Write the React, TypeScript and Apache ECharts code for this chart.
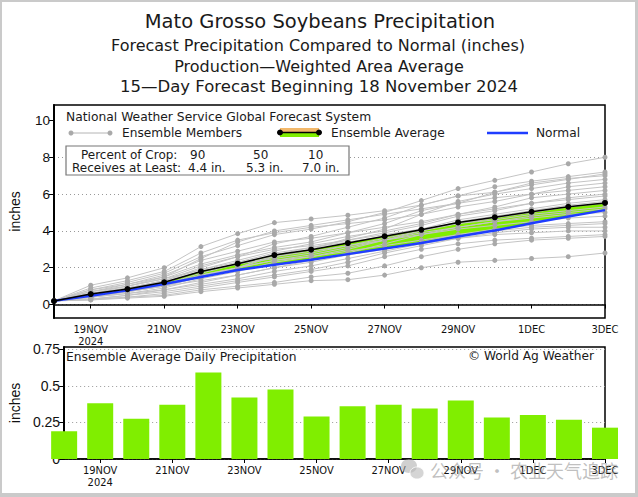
import React, { useEffect, useRef } from "react";
import * as echarts from "echarts";

const days = ["18NOV", "19NOV\n2024", "20NOV", "21NOV", "22NOV", "23NOV", "24NOV", "25NOV", "26NOV", "27NOV", "28NOV", "29NOV", "30NOV", "1DEC", "2DEC", "3DEC"];
const dailyPrecip = [0.19, 0.38, 0.275, 0.37, 0.59, 0.42, 0.475, 0.29, 0.36, 0.37, 0.345, 0.4, 0.284, 0.3, 0.268, 0.214];
const ensembleAverage = [0.19, 0.57, 0.84, 1.21, 1.8, 2.22, 2.69, 2.98, 3.34, 3.71, 4.06, 4.46, 4.74, 5.04, 5.31, 5.52];
const normal = [0.2, 0.48, 0.77, 1.12, 1.5, 1.88, 2.16, 2.44, 2.74, 3.04, 3.34, 3.7, 4.02, 4.42, 4.78, 5.13];
const ensembleMembers = [
  [0.2, 0.8, 1.2, 1.7, 2.6, 3.2, 3.8, 4.1, 4.5, 5.0, 5.65, 6.3, 6.75, 7.2, 7.65, 8.0],
  [0.2, 1.05, 1.45, 2.0, 3.15, 3.85, 4.45, 4.65, 4.85, 5.1, 5.4, 5.9, 6.4, 6.7, 6.95, 7.2],
  [0.2, 0.6, 0.9, 1.3, 2.0, 2.6, 3.3, 3.7, 4.2, 4.7, 5.4, 5.9, 6.1, 6.5, 6.8, 7.1],
  [0.2, 0.7, 1.1, 1.5, 2.5, 3.4, 4.0, 4.3, 4.6, 4.9, 5.2, 5.5, 6.1, 6.6, 6.85, 7.0],
  [0.2, 0.5, 0.8, 1.1, 1.6, 2.0, 2.6, 3.0, 3.6, 4.1, 4.9, 5.6, 6.0, 6.3, 6.6, 6.8],
  [0.2, 0.9, 1.3, 1.8, 2.8, 3.5, 3.9, 4.2, 4.4, 4.6, 4.9, 5.3, 5.6, 6.0, 6.4, 6.6],
  [0.2, 0.6, 1.0, 1.5, 2.2, 2.7, 3.1, 3.4, 3.9, 4.4, 5.1, 5.5, 5.8, 6.0, 6.2, 6.4],
  [0.2, 0.7, 1.0, 1.4, 1.9, 2.4, 2.9, 3.3, 3.7, 4.0, 4.4, 4.9, 5.3, 5.8, 6.0, 6.2],
  [0.2, 0.4, 0.7, 1.0, 1.5, 2.0, 2.7, 3.1, 3.5, 3.9, 4.3, 4.8, 5.1, 5.5, 5.8, 6.0],
  [0.2, 0.8, 1.1, 1.6, 2.4, 2.9, 3.4, 3.6, 3.9, 4.2, 4.5, 4.9, 5.2, 5.5, 5.7, 5.9],
  [0.2, 0.5, 0.9, 1.3, 1.9, 2.3, 2.8, 3.1, 3.4, 3.7, 4.1, 4.6, 4.9, 5.2, 5.5, 5.7],
  [0.2, 0.6, 0.8, 1.1, 1.7, 2.2, 2.5, 2.8, 3.2, 3.6, 4.0, 4.5, 4.8, 5.1, 5.4, 5.6],
  [0.2, 0.4, 0.6, 0.9, 1.4, 1.8, 2.3, 2.6, 3.0, 3.5, 4.0, 4.4, 4.7, 5.0, 5.3, 5.5],
  [0.2, 0.7, 1.0, 1.4, 2.1, 2.6, 3.0, 3.2, 3.5, 3.8, 4.1, 4.4, 4.6, 4.9, 5.1, 5.3],
  [0.2, 0.5, 0.7, 1.0, 1.6, 2.0, 2.4, 2.7, 3.1, 3.5, 3.9, 4.2, 4.5, 4.8, 5.0, 5.2],
  [0.2, 0.3, 0.5, 0.8, 1.2, 1.6, 2.0, 2.4, 2.8, 3.3, 3.8, 4.2, 4.5, 4.7, 4.9, 5.0],
  [0.2, 0.6, 0.9, 1.2, 1.8, 2.2, 2.6, 2.9, 3.2, 3.5, 3.8, 4.1, 4.3, 4.5, 4.7, 4.8],
  [0.2, 0.4, 0.7, 1.0, 1.3, 1.6, 2.0, 2.3, 2.7, 3.0, 3.4, 3.8, 4.1, 4.3, 4.4, 4.5],
  [0.2, 0.5, 0.8, 1.0, 1.5, 2.0, 2.4, 2.6, 2.9, 3.2, 3.5, 3.8, 4.0, 4.2, 4.3, 4.4],
  [0.2, 0.3, 0.5, 0.7, 1.0, 1.3, 1.6, 1.9, 2.3, 2.8, 3.2, 3.6, 3.9, 4.1, 4.2, 4.2],
  [0.2, 0.4, 0.6, 0.8, 1.1, 1.4, 1.8, 2.1, 2.5, 2.9, 3.3, 3.6, 3.8, 3.9, 4.0, 4.0],
  [0.2, 0.3, 0.4, 0.6, 0.9, 1.2, 1.5, 1.8, 2.1, 2.6, 3.0, 3.3, 3.5, 3.6, 3.7, 3.8],
  [0.2, 0.25, 0.4, 0.5, 0.8, 1.0, 1.2, 1.5, 1.7, 2.1, 2.6, 3.0, 3.3, 3.5, 3.6, 3.7],
  [0.2, 0.25, 0.35, 0.45, 0.7, 0.9, 1.1, 1.3, 1.35, 1.6, 2.0, 2.3, 2.4, 2.5, 2.6, 2.8],
];
const topTicks = [0, 2, 4, 6, 8, 10];
const bottomTicks = [0, 0.25, 0.5, 0.75];
const cropPercent = ["90", "50", "10"];
const cropAmount = ["4.4 in.", "5.3 in.", "7.0 in."];
const titles = [
  "Mato Grosso Soybeans Precipitation",
  "Forecast Precipitation Compared to Normal (inches)",
  "Production\u2014Weighted Area Average",
  "15\u2014Day Forecast Beginning 18 November 2024",
];

const SANS = "'DejaVu Sans', 'Liberation Sans', sans-serif";
const ARIAL = "'Liberation Sans', sans-serif";
const NARROW = "'Liberation Sans Narrow', 'DejaVu Sans Condensed', 'Liberation Sans', sans-serif";
const GREEN = "#80ee00";

function txt(text: string, x: number, y: number, size: number, align = "left", extra: any = {}) {
  return {
    type: "text",
    x,
    y,
    z: 100,
    style: { text, fontSize: size, fontFamily: SANS, fill: "#1a1a1a", align, verticalAlign: "middle", ...extra },
  };
}

function buildOption() {
  const oddOnly = (i: number) => i % 2 === 1;
  const xAxisCommon = {
    type: "category",
    data: days,
    boundaryGap: false,
    axisLine: { lineStyle: { color: "#000", width: 1.5 } },
    axisTick: { interval: oddOnly, length: 4, lineStyle: { color: "#000" } },
    axisLabel: { interval: oddOnly, fontSize: 11, fontFamily: NARROW, color: "#111", margin: 5, lineHeight: 12 },
    splitLine: { show: false },
  };
  const splitDots = { show: true, lineStyle: { type: [1, 3], color: "#999", width: 1 } };

  const series: any[] = [];
  series.push({
    type: "line", name: "base", data: normal, stack: "band", symbol: "none",
    lineStyle: { opacity: 0 }, silent: true, z: 1, xAxisIndex: 0, yAxisIndex: 0,
  });
  series.push({
    type: "line", name: "above", data: ensembleAverage.map((v, i) => Math.max(0, v - normal[i])),
    stack: "band", symbol: "none", lineStyle: { opacity: 0 }, areaStyle: { color: GREEN, opacity: 1 },
    silent: true, z: 1, xAxisIndex: 0, yAxisIndex: 0,
  });
  ensembleMembers.forEach((m, k) => {
    series.push({
      type: "line", name: "member" + k, data: m, symbol: "circle", symbolSize: 5,
      itemStyle: { color: "#a9a9a9" }, lineStyle: { color: "#c4c4c4", width: 1 },
      z: 2, xAxisIndex: 0, yAxisIndex: 0, silent: true,
    });
  });
  series.push({
    type: "line", name: "Normal", data: normal, symbol: "none",
    lineStyle: { color: "#1f3dff", width: 2.5 }, z: 3, xAxisIndex: 0, yAxisIndex: 0,
  });
  series.push({
    type: "line", name: "Ensemble Average", data: ensembleAverage, symbol: "circle", symbolSize: 6,
    itemStyle: { color: "#000" }, lineStyle: { color: "#000", width: 1.5 }, z: 4, xAxisIndex: 0, yAxisIndex: 0,
  });
  series.push({
    type: "bar", name: "Daily", data: dailyPrecip, barWidth: 26, itemStyle: { color: GREEN },
    xAxisIndex: 1, yAxisIndex: 1, clip: true, z: 2,
  });

  const graphic: any[] = [];
  // frame
  graphic.push({ type: "rect", z: 200, shape: { x: 0, y: 0, width: 638, height: 2 }, style: { fill: "#cacaca" } });
  graphic.push({ type: "rect", z: 200, shape: { x: 0, y: 0, width: 2, height: 497 }, style: { fill: "#cacaca" } });
  graphic.push({ type: "rect", z: 200, shape: { x: 635, y: 0, width: 3, height: 497 }, style: { fill: "#cacaca" } });
  graphic.push({ type: "rect", z: 200, shape: { x: 0, y: 493, width: 638, height: 4 }, style: { fill: "#cacaca" } });
  // titles
  graphic.push(txt(titles[0], 320, 21, 19.5, "center"));
  graphic.push(txt(titles[1], 318, 45, 16, "center"));
  graphic.push(txt(titles[2], 319, 66, 16, "center"));
  graphic.push(txt(titles[3], 319, 86, 16.5, "center"));
  // legend area cover
  graphic.push({ type: "rect", z: 90, shape: { x: 55, y: 106, width: 549, height: 32 }, style: { fill: "#fff" } });
  graphic.push(txt("National Weather Service Global Forecast System", 66, 117, 12.3));
  // members legend
  graphic.push({ type: "line", z: 100, shape: { x1: 71, y1: 133, x2: 110, y2: 133 }, style: { stroke: "#b4b4b4", lineWidth: 1 } });
  graphic.push({ type: "circle", z: 101, shape: { cx: 71, cy: 133, r: 2.5 }, style: { fill: "#a9a9a9" } });
  graphic.push({ type: "circle", z: 101, shape: { cx: 110, cy: 133, r: 2.5 }, style: { fill: "#a9a9a9" } });
  graphic.push(txt("Ensemble Members", 122, 133, 12.2));
  // ensemble average legend
  graphic.push({ type: "rect", z: 100, shape: { x: 280, y: 128, width: 39, height: 4.5 }, style: { fill: "#f2b86a" } });
  graphic.push({ type: "rect", z: 100, shape: { x: 280, y: 132.5, width: 39, height: 4.5 }, style: { fill: GREEN } });
  graphic.push({ type: "line", z: 101, shape: { x1: 280, y1: 132.5, x2: 319, y2: 132.5 }, style: { stroke: "#000", lineWidth: 1.5 } });
  graphic.push({ type: "circle", z: 102, shape: { cx: 280, cy: 132.5, r: 3 }, style: { fill: "#000" } });
  graphic.push({ type: "circle", z: 102, shape: { cx: 319, cy: 132.5, r: 3 }, style: { fill: "#000" } });
  graphic.push(txt("Ensemble Average", 331, 133, 12.2));
  // normal legend
  graphic.push({ type: "line", z: 100, shape: { x1: 487, y1: 133, x2: 528, y2: 133 }, style: { stroke: "#1f3dff", lineWidth: 2.5 } });
  graphic.push(txt("Normal", 536, 133, 12.2));
  // percent box
  graphic.push({ type: "rect", z: 100, shape: { x: 66, y: 146, width: 283, height: 29 }, style: { fill: "#fff", stroke: "#777", lineWidth: 1.2 } });
  graphic.push(txt("Percent of Crop:", 81, 155, 12));
  graphic.push(txt("Receives at Least:", 72, 167.5, 12));
  const pctX = [190, 253, 308];
  const amtX = [188, 246, 302];
  cropPercent.forEach((p, i) => graphic.push(txt(p, pctX[i], 155, 12)));
  cropAmount.forEach((a, i) => graphic.push(txt(a, amtX[i], 167.5, 12)));
  // bottom panel texts
  graphic.push(txt("Ensemble Average Daily Precipitation", 66, 357, 12.3));
  graphic.push(txt("\u00A9 World Ag Weather", 594, 356, 12.2, "right"));
  // watermark
  graphic.push({ type: "ellipse", z: 150, shape: { cx: 409, cy: 466, rx: 8, ry: 7 }, style: { fill: "rgba(170,170,170,0.55)" } });
  graphic.push({ type: "ellipse", z: 151, shape: { cx: 417, cy: 473, rx: 7, ry: 6 }, style: { fill: "rgba(185,185,185,0.6)", stroke: "rgba(255,255,255,0.8)", lineWidth: 1 } });
  graphic.push({
    type: "text", x: 430, y: 470, z: 150,
    style: { text: "\u516C\u4F17\u53F7 \u00B7 \u519C\u4E1A\u5929\u6C14\u8FFD\u8E2A", fontSize: 18, fontFamily: "'Noto Sans CJK SC', sans-serif", fill: "rgba(150,150,150,0.6)", align: "left", verticalAlign: "middle" },
  });

  return {
    animation: false,
    backgroundColor: "#fff",
    grid: [
      { left: 53, top: 105, width: 552, height: 213, show: true, borderColor: "#000", borderWidth: 1.5, containLabel: false },
      { left: 53, top: 347, width: 552, height: 112, show: true, borderColor: "#000", borderWidth: 1.5, containLabel: false },
    ],
    xAxis: [
      { ...xAxisCommon, gridIndex: 0 },
      { ...xAxisCommon, gridIndex: 1 },
    ],
    yAxis: [
      {
        type: "value", gridIndex: 0, min: -0.73, max: 10.84,
        name: "inches", nameLocation: "middle", nameGap: 32, nameRotate: 90,
        nameTextStyle: { fontSize: 14, fontFamily: ARIAL, color: "#111" },
        axisLine: { show: true, lineStyle: { color: "#000", width: 2 } },
        axisTick: { show: true, length: 5, customValues: topTicks, lineStyle: { color: "#000" } },
        axisLabel: { customValues: topTicks, fontSize: 13.5, fontFamily: ARIAL, color: "#111", margin: 4 },
        splitLine: splitDots,
      },
      {
        type: "value", gridIndex: 1, min: 0, max: 0.765,
        name: "inches", nameLocation: "middle", nameGap: 32, nameRotate: 90,
        nameTextStyle: { fontSize: 14, fontFamily: ARIAL, color: "#111" },
        axisLine: { show: true, lineStyle: { color: "#000", width: 2 } },
        axisTick: { show: true, length: 5, customValues: bottomTicks, lineStyle: { color: "#000" } },
        axisLabel: { customValues: bottomTicks, fontSize: 14, fontFamily: ARIAL, color: "#111", margin: 4 },
        splitLine: splitDots,
      },
    ],
    series,
    graphic,
  };
}

export default function App() {
  const ref = useRef<HTMLDivElement>(null);
  useEffect(() => {
    if (!ref.current) return;
    const chart = echarts.init(ref.current, null, { renderer: "svg" });
    chart.setOption(buildOption() as any);
    return () => chart.dispose();
  }, []);
  return (
    <div
      ref={ref}
      style={{ position: "fixed", left: 0, top: 0, width: 638, height: 497, background: "#fff" }}
    />
  );
}
